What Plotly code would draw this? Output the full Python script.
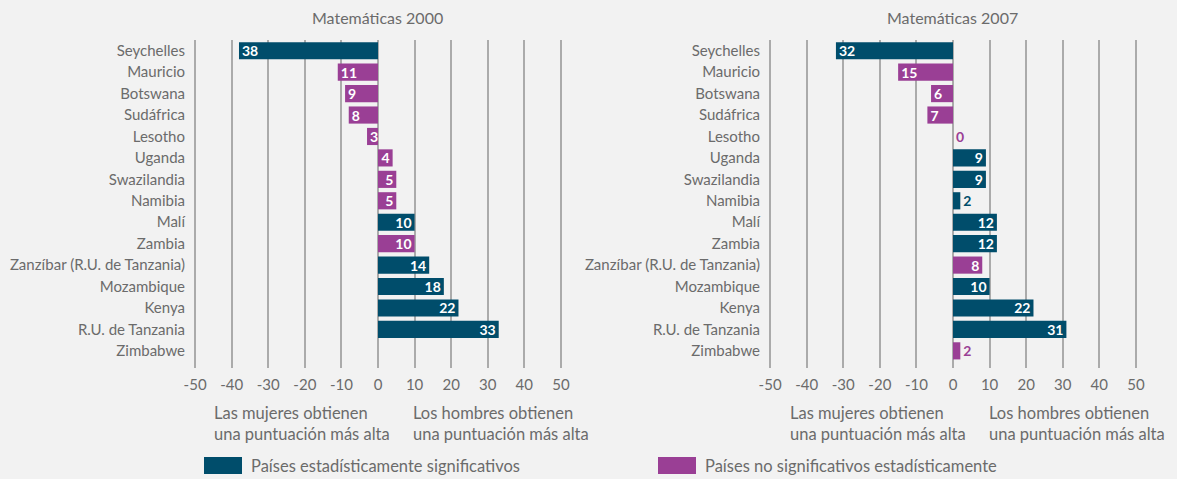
import plotly.graph_objects as go

countries = ["Seychelles", "Mauricio", "Botswana", "Sudáfrica", "Lesotho", "Uganda",
             "Swazilandia", "Namibia", "Malí", "Zambia", "Zanzíbar (R.U. de Tanzania)",
             "Mozambique", "Kenya", "R.U. de Tanzania", "Zimbabwe"]

# Difference (boys minus girls); negative = girls score higher
values_2000 = [-38, -11, -9, -8, -3, 4, 5, 5, 10, 10, 14, 18, 22, 33, None]
signif_2000 = [True, False, False, False, False, False, False, False, True, False,
               True, True, True, True, None]

values_2007 = [-32, -15, -6, -7, 0, 9, 9, 2, 12, 12, 8, 10, 22, 31, 2]
signif_2007 = [True, False, False, False, False, True, True, True, True, True,
               False, True, True, True, False]

titles = ["Matemáticas 2000", "Matemáticas 2007"]
x_ticks = [-50, -40, -30, -20, -10, 0, 10, 20, 30, 40, 50]
legend_labels = ["Países estadísticamente significativos",
                 "Países no significativos estadísticamente"]

SIG = "#004D6B"
NOSIG = "#9A3F95"
BG = "#F2F2F2"
GRID = "#ABABAB"
TXT = "#6B6B6B"
FONT = "Lato"
W, H = 1177, 479


def px_x(p):
    return p / W


def px_y(p):
    return 1 - p / H


fig = go.Figure()

for i, (vals, sig) in enumerate([(values_2000, signif_2000), (values_2007, signif_2007)]):
    colors = [SIG if s else NOSIG for s in sig]
    texts = ["" if v is None else str(abs(v)) for v in vals]
    positions = ["outside" if (v is not None and abs(v) < 3) else "inside" for v in vals]
    tcolors = [c if p == "outside" else "white" for c, p in zip(colors, positions)]
    fig.add_trace(go.Bar(
        x=vals, y=countries, orientation="h",
        marker=dict(color=colors, line=dict(width=0)),
        width=0.8,
        text=texts, textposition=positions, insidetextanchor="end", textangle=0,
        constraintext="none", cliponaxis=False,
        textfont=dict(family=FONT, size=14, color=tcolors, weight="bold"),
        xaxis="x" if i == 0 else "x2", yaxis="y" if i == 0 else "y2",
        showlegend=False, hoverinfo="skip",
    ))

x_domains = [[px_x(194), px_x(562)], [px_x(769), px_x(1137)]]
y_domain = [px_y(368), px_y(40)]

axis_common_x = dict(range=[-50.3, 50.3], tickvals=x_ticks, ticktext=[str(t) for t in x_ticks],
                     showgrid=True, gridcolor=GRID, gridwidth=1.5, zeroline=True,
                     zerolinecolor=GRID, zerolinewidth=1.5, showline=False, ticks="",
                     ticklabelstandoff=6, automargin=False,
                     tickfont=dict(family=FONT, size=15, color=TXT), fixedrange=True)
axis_common_y = dict(type="category", categoryorder="array", categoryarray=countries,
                     range=[14.8, -0.5], showgrid=False, zeroline=False, showline=False,
                     ticks="", ticklabelstandoff=8, automargin=False,
                     tickfont=dict(family=FONT, size=15, color=TXT), fixedrange=True,
                     domain=y_domain)

fig.update_layout(
    width=W, height=H,
    margin=dict(l=0, r=0, t=0, b=0, autoexpand=False),
    paper_bgcolor=BG, plot_bgcolor=BG,
    bargap=0.2,
    xaxis=dict(domain=x_domains[0], anchor="y", **axis_common_x),
    yaxis=dict(anchor="x", **axis_common_y),
    xaxis2=dict(domain=x_domains[1], anchor="y2", **axis_common_x),
    yaxis2=dict(anchor="x2", **axis_common_y),
    font=dict(family=FONT, color=TXT),
)

annotations = []
centers = [377, 952]
for t, c in zip(titles, centers):
    annotations.append(dict(text=t, x=px_x(c), y=px_y(17), xref="paper", yref="paper",
                            xanchor="center", yanchor="middle", showarrow=False,
                            font=dict(family=FONT, size=16, color=TXT)))

desc = [("Las mujeres obtienen", "una puntuación más alta"),
        ("Los hombres obtienen", "una puntuación más alta")]
desc_x = [[212, 411], [788, 987]]
for xs in desc_x:
    for (l1, l2), xp in zip(desc, xs):
        for line, yp in [(l1, 413), (l2, 434)]:
            annotations.append(dict(text=line, x=px_x(xp), y=px_y(yp), xref="paper",
                                    yref="paper", xanchor="left", yanchor="middle",
                                    showarrow=False,
                                    font=dict(family=FONT, size=16.5, color=TXT)))

shapes = []
leg_x = [204, 658]
for lbl, lx, col in zip(legend_labels, leg_x, [SIG, NOSIG]):
    shapes.append(dict(type="rect", xref="paper", yref="paper",
                       x0=px_x(lx), x1=px_x(lx + 38), y0=px_y(474), y1=px_y(457),
                       fillcolor=col, line=dict(width=0)))
    annotations.append(dict(text=lbl, x=px_x(lx + 45), y=px_y(466), xref="paper",
                            yref="paper", xanchor="left", yanchor="middle", showarrow=False,
                            font=dict(family=FONT, size=16.5, color=TXT)))

fig.update_layout(annotations=annotations, shapes=shapes)

fig.write_html("out.html", config={"displayModeBar": False},
               post_script="document.body.style.margin='0';")
